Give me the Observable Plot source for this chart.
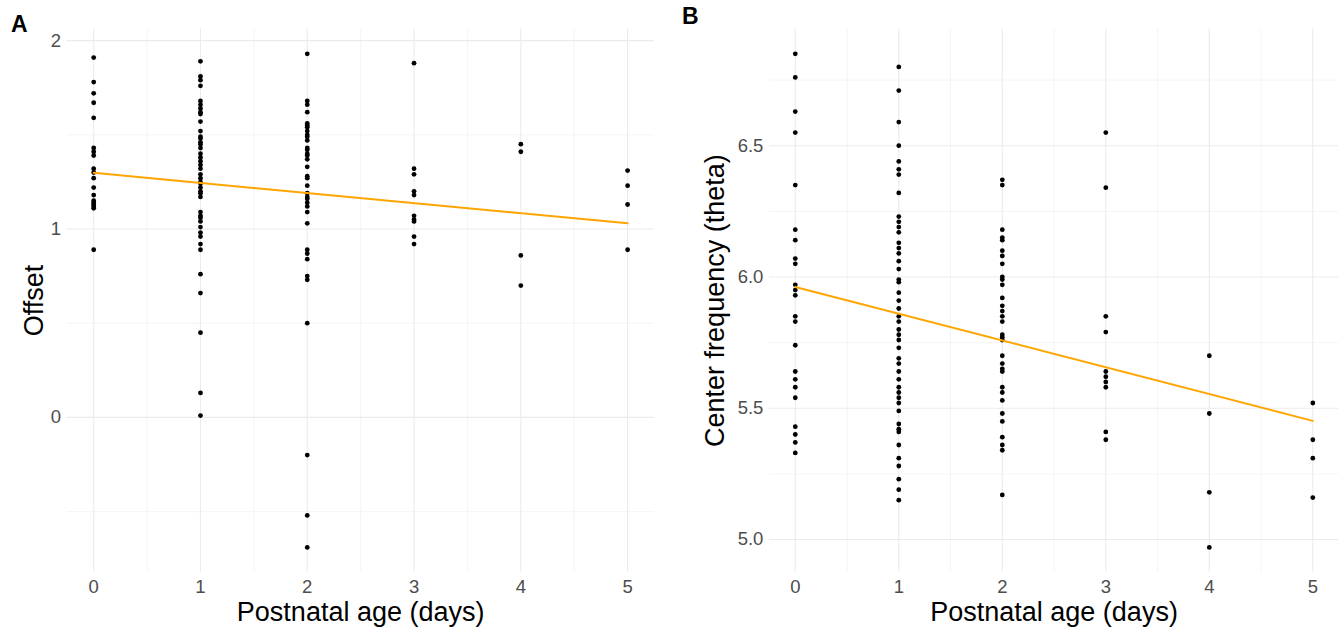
<!DOCTYPE html>
<html>
<head>
<meta charset="utf-8">
<script src="https://cdn.jsdelivr.net/npm/d3@7"></script>
<script src="https://cdn.jsdelivr.net/npm/@observablehq/plot@0.6"></script>
<style>
  html, body { margin: 0; padding: 0; background: #fff; }
  #wrap { position: relative; width: 1341px; height: 629px; display: flex; }
  .tag { position: absolute; font-family: "Liberation Sans", Arial, sans-serif; font-weight: bold; font-size: 23px; line-height: 1; color: #000; }
</style>
</head>
<body>
<div id="wrap">
  <div id="pA"></div>
  <div id="pB"></div>
  <div class="tag" style="left:11px; top:13px;">A</div>
  <div class="tag" style="left:682px; top:5px;">B</div>
</div>
<script>
// ---- data ----
const ages = [0, 1, 2, 3, 4, 5];

const offsetDay0 = [1.91, 1.78, 1.72, 1.67, 1.59, 1.43, 1.41, 1.39, 1.32, 1.30, 1.27, 1.22, 1.18, 1.15, 1.14, 1.13, 1.12, 1.11, 0.89];
const offsetDay1 = [1.89, 1.81, 1.79, 1.76, 1.68, 1.66, 1.64, 1.62, 1.61, 1.57, 1.52, 1.49, 1.48, 1.46, 1.45, 1.43, 1.40, 1.38, 1.36, 1.34, 1.32, 1.29, 1.27, 1.25, 1.24, 1.22, 1.20, 1.19, 1.17, 1.09, 1.07, 1.06, 1.04, 1.01, 0.98, 0.96, 0.92, 0.89, 0.76, 0.66, 0.45, 0.13, 0.01];
const offsetDay2 = [1.93, 1.68, 1.66, 1.62, 1.56, 1.55, 1.54, 1.52, 1.50, 1.49, 1.47, 1.43, 1.42, 1.40, 1.39, 1.37, 1.33, 1.28, 1.27, 1.23, 1.19, 1.17, 1.16, 1.14, 1.12, 1.09, 1.03, 0.89, 0.87, 0.84, 0.75, 0.73, 0.50, -0.20, -0.52, -0.69];
const offsetDay3 = [1.88, 1.32, 1.29, 1.20, 1.18, 1.07, 1.05, 1.04, 0.96, 0.92];
const offsetDay4 = [1.45, 1.41, 0.86, 0.70];
const offsetDay5 = [1.31, 1.23, 1.13, 0.89];

const cfDay0 = [6.85, 6.76, 6.63, 6.55, 6.35, 6.18, 6.14, 6.07, 6.05, 5.97, 5.95, 5.93, 5.85, 5.83, 5.74, 5.64, 5.61, 5.58, 5.54, 5.43, 5.40, 5.37, 5.33];
const cfDay1 = [6.80, 6.71, 6.59, 6.50, 6.44, 6.41, 6.39, 6.32, 6.23, 6.21, 6.19, 6.17, 6.13, 6.11, 6.09, 6.06, 6.03, 5.99, 5.98, 5.94, 5.91, 5.88, 5.85, 5.83, 5.80, 5.78, 5.76, 5.73, 5.69, 5.67, 5.64, 5.61, 5.58, 5.56, 5.54, 5.52, 5.49, 5.44, 5.42, 5.41, 5.36, 5.31, 5.28, 5.23, 5.19, 5.15];
const cfDay2 = [6.37, 6.35, 6.18, 6.15, 6.14, 6.10, 6.08, 6.05, 6.00, 5.99, 5.97, 5.92, 5.89, 5.87, 5.85, 5.83, 5.78, 5.77, 5.76, 5.70, 5.67, 5.65, 5.64, 5.58, 5.56, 5.53, 5.48, 5.45, 5.39, 5.36, 5.34, 5.17];
const cfDay3 = [6.55, 6.34, 5.85, 5.79, 5.64, 5.62, 5.60, 5.58, 5.41, 5.38];
const cfDay4 = [5.70, 5.48, 5.18, 4.97];
const cfDay5 = [5.52, 5.38, 5.31, 5.16];

// fitted line end points (age 0 and age 5)
const fitAges = [0, 5];
const offsetFit = [1.298, 1.030];
const cfFit = [5.962, 5.452];

// tick labels / breaks
const xMajor = [0, 1, 2, 3, 4, 5];
const xMinor = [0.5, 1.5, 2.5, 3.5, 4.5];
const yMajorA = [0, 1, 2];
const yMinorA = [-0.5, 0.5, 1.5];
const yMajorB = [5.0, 5.5, 6.0, 6.5];
const yMinorB = [5.25, 5.75, 6.25, 6.75];

const xLabel = "Postnatal age (days)";
const yLabelA = "Offset";
const yLabelB = "Center frequency (theta)";

// ---- build tables ----
function table(cols) {
  const out = [];
  cols.forEach((vals, i) => vals.forEach(v => out.push({age: ages[i], value: v})));
  return out;
}
const dataA = table([offsetDay0, offsetDay1, offsetDay2, offsetDay3, offsetDay4, offsetDay5]);
const dataB = table([cfDay0, cfDay1, cfDay2, cfDay3, cfDay4, cfDay5]);
const fitA = fitAges.map((a, i) => ({age: a, value: offsetFit[i]}));
const fitB = fitAges.map((a, i) => ({age: a, value: cfFit[i]}));

function expand(ext) { const s = (ext[1] - ext[0]) * 0.05; return [ext[0] - s, ext[1] + s]; }

const FONT = '"Liberation Sans", Arial, sans-serif';
const GRID = "#ebebeb";
const TICK = "#4d4d4d";

function panel({data, fit, yMajor, yMinor, yFmt, yLabel, width, marginLeft, marginRight, yTitleDx}) {
  return Plot.plot({
    width, height: 629,
    marginLeft, marginRight, marginTop: 28.6, marginBottom: 57.4,
    style: {fontFamily: FONT, background: "white"},
    x: {domain: expand(d3.extent(data, d => d.age)), axis: null},
    y: {domain: expand(d3.extent(data, d => d.value)), axis: null},
    marks: [
      Plot.gridX(xMinor, {stroke: GRID, strokeOpacity: 1, strokeWidth: 0.55}),
      Plot.gridY(yMinor, {stroke: GRID, strokeOpacity: 1, strokeWidth: 0.55}),
      Plot.gridX(xMajor, {stroke: GRID, strokeOpacity: 1, strokeWidth: 1.1}),
      Plot.gridY(yMajor, {stroke: GRID, strokeOpacity: 1, strokeWidth: 1.1}),
      // tick labels
      Plot.text(xMajor, {x: d => d, frameAnchor: "bottom", dy: 15, text: d => String(d), fontSize: 18.5, fill: TICK, lineAnchor: "middle"}),
      Plot.text(yMajor, {y: d => d, frameAnchor: "left", dx: -6, textAnchor: "end", text: yFmt, fontSize: 18.5, fill: TICK}),
      // axis titles
      Plot.text([xLabel], {frameAnchor: "bottom", dy: 40, text: d => d, fontSize: 27, fill: "#000", textAnchor: "middle", lineAnchor: "middle"}),
      Plot.text([yLabel], {frameAnchor: "left", dx: yTitleDx, rotate: -90, text: d => d, fontSize: 27, fill: "#000", textAnchor: "middle", lineAnchor: "middle"}),
      // data
      Plot.dot(data, {x: "age", y: "value", r: 2.4, fill: "#000", stroke: null}),
      Plot.line(fit, {x: "age", y: "value", stroke: "#FFA500", strokeWidth: 2})
    ]
  });
}

document.getElementById("pA").append(panel({
  data: dataA, fit: fitA, yMajor: yMajorA, yMinor: yMinorA, yFmt: d => String(d),
  yLabel: yLabelA, width: 670, marginLeft: 66.5, marginRight: 16.2, yTitleDx: -33
}));
document.getElementById("pB").append(panel({
  data: dataB, fit: fitB, yMajor: yMajorB, yMinor: yMinorB, yFmt: d => d.toFixed(1),
  yLabel: yLabelB, width: 671, marginLeft: 98.9, marginRight: 2.8, yTitleDx: -54
}));
</script>
</body>
</html>
